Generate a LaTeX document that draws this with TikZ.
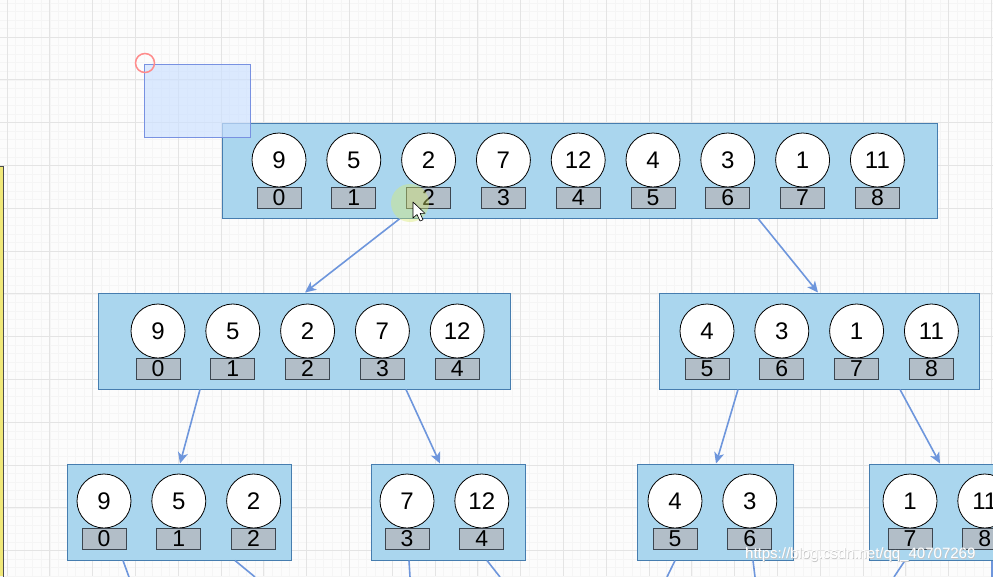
\documentclass[tikz,border=0pt]{standalone}
\usepackage{fontspec}
\setmainfont{Liberation Sans}
\usetikzlibrary{arrows.meta}
\definecolor{boxfill}{RGB}{170,214,238}
\definecolor{boxline}{RGB}{70,125,175}
\definecolor{idxfill}{RGB}{178,190,200}
\definecolor{idxline}{RGB}{60,70,80}
\definecolor{arrowc}{RGB}{110,150,220}
\definecolor{gridc}{RGB}{228,228,228}
\definecolor{gridminor}{RGB}{245,245,245}
\definecolor{selfill}{RGB}{205,225,255}
\definecolor{selline}{RGB}{120,145,225}
\definecolor{barfill}{RGB}{240,232,120}
\tikzset{
  arraybox/.style={draw=boxline, fill=boxfill, line width=1pt, rectangle, inner sep=0pt},
  elem/.style={circle, draw=black, fill=white, minimum size=54pt, inner sep=0pt, line width=0.8pt, font=\fontsize{24}{24}\selectfont},
  idx/.style={rectangle, draw=idxline, fill=idxfill, minimum width=44pt, minimum height=21pt, inner sep=0pt, line width=0.7pt, font=\fontsize{23}{23}\selectfont},
  link/.style={draw=arrowc, line width=1.6pt, -{Stealth[length=11pt,width=10pt,inset=3pt]}},
  stub/.style={draw=arrowc, line width=1.6pt},
}
\newcommand\arrayrow[4]{%
  \foreach \v/\i [count=\k from 0] in {#4} {
    \node[elem] (#1c\k) at ({#2+74.8*\k}, #3) {\v};
    \node[idx] (#1i\k) at ({#2+74.8*\k}, #3+37.6) {\i};
  }%
}
\begin{document}
\begin{tikzpicture}[x=1pt,y=-1pt]
\useasboundingbox (0,0) rectangle (993,576);
\clip (0,0) rectangle (993,576);
\fill[white!98!gray] (0,0) rectangle (993,576);
% grid
\foreach \k in {-5,...,116} {
  \draw[gridminor, line width=0.5pt] ({7+8.56*\k},0) -- ({7+8.56*\k},576);
}
\foreach \k in {-5,...,68} {
  \draw[gridminor, line width=0.5pt] (0,{-5.8+8.56*\k}) -- (993,{-5.8+8.56*\k});
}
\foreach \k in {0,...,23} {
  \draw[gridc, line width=1pt] ({7+42.8*\k},0) -- ({7+42.8*\k},576);
}
\foreach \k in {0,...,14} {
  \draw[gridc, line width=1pt] (0,{-5.8+42.8*\k}) -- (993,{-5.8+42.8*\k});
}
% left yellow bar
\fill[barfill] (0,166) rectangle (3.5,576);
\draw[gray!60!black, line width=0.8pt] (0,166) -- (3.5,166) -- (3.5,577);
% boxes
\node[arraybox, minimum width=715pt, minimum height=95pt] (top) at (579.5,170.5) {};
\node[arraybox, minimum width=412pt, minimum height=96pt] (ml) at (304,341) {};
\node[arraybox, minimum width=320pt, minimum height=96pt] (mr) at (819,341) {};
\node[arraybox, minimum width=224pt, minimum height=96pt] (bA) at (179,512) {};
\node[arraybox, minimum width=154pt, minimum height=96pt] (bB) at (448,512) {};
\node[arraybox, minimum width=156pt, minimum height=96pt] (bC) at (715,512) {};
\node[arraybox, minimum width=155pt, minimum height=96pt] (bD) at (946.5,512) {};
% elements
\arrayrow{t}{279}{160}{9/0,5/1,2/2,7/3,12/4,4/5,3/6,1/7,11/8}
\arrayrow{l}{158}{331}{9/0,5/1,2/2,7/3,12/4}
\arrayrow{r}{707}{331}{4/5,3/6,1/7,11/8}
\arrayrow{a}{104}{501}{9/0,5/1,2/2}
\arrayrow{b}{407}{501}{7/3,12/4}
\arrayrow{c}{675}{501}{4/5,3/6}
\arrayrow{d}{910}{501}{1/7,11/8}
% arrows
\draw[link] ([xshift=-179.5pt]top.south) -- ([xshift=1pt]ml.north);
\draw[link] ([xshift=178.5pt]top.south) -- ([xshift=-1pt]mr.north);
\draw[link] ([xshift=-104pt]ml.south) -- ([xshift=1pt]bA.north);
\draw[link] ([xshift=102pt]ml.south) -- ([xshift=-8pt]bB.north);
\draw[link] ([xshift=-81pt]mr.south) -- ([xshift=1pt]bC.north);
\draw[link] ([xshift=81pt]mr.south) -- ([xshift=-6.5pt]bD.north);
% stubs to children outside the view
\coordinate (sA1) at (129,577);
\coordinate (sA2) at (255,577);
\coordinate (sB1) at (410,577);
\coordinate (sB2) at (500,577);
\coordinate (sC1) at (667,577);
\coordinate (sC2) at (755,577);
\coordinate (sD1) at (894,577);
\coordinate (sD2) at (992,577);
\draw[stub] ([xshift=-56pt]bA.south) -- (sA1);
\draw[stub] ([xshift=56pt]bA.south) -- (sA2);
\draw[stub] ([xshift=-39pt]bB.south) -- (sB1);
\draw[stub] ([xshift=39pt]bB.south) -- (sB2);
\draw[stub] ([xshift=-40pt]bC.south) -- (sC1);
\draw[stub] ([xshift=38pt]bC.south) -- (sC2);
\draw[stub] ([xshift=-41.5pt]bD.south) -- (sD1);
\draw[stub] ([xshift=45.5pt]bD.south) -- (sD2);
% selection rectangle and marker
\draw[selline, fill=selfill, fill opacity=0.7, line width=0.8pt] (144,64) rectangle (250,137);
\draw[red!45, line width=1.5pt] (145,63) circle (9.5pt);
% pointer highlight and cursor
\fill[yellow!75!green!60, opacity=0.4] (410,203) circle (19pt);
\draw[black, fill=white, line width=0.6pt, line join=round] (413,202) -- (413,218) -- (417,214.5) -- (420,221) -- (423,219.8) -- (420.2,213.4) -- (425,213.4) -- cycle;
% watermark
\node[text=gray!45, font=\fontsize{15}{15}\selectfont] (wm0) at (861,555.8) {https://blog.csdn.net/qq\_40707269};
\node[text=white, font=\fontsize{15}{15}\selectfont] (wm) at (860.3,555) {https://blog.csdn.net/qq\_40707269};
\end{tikzpicture}
\end{document}
